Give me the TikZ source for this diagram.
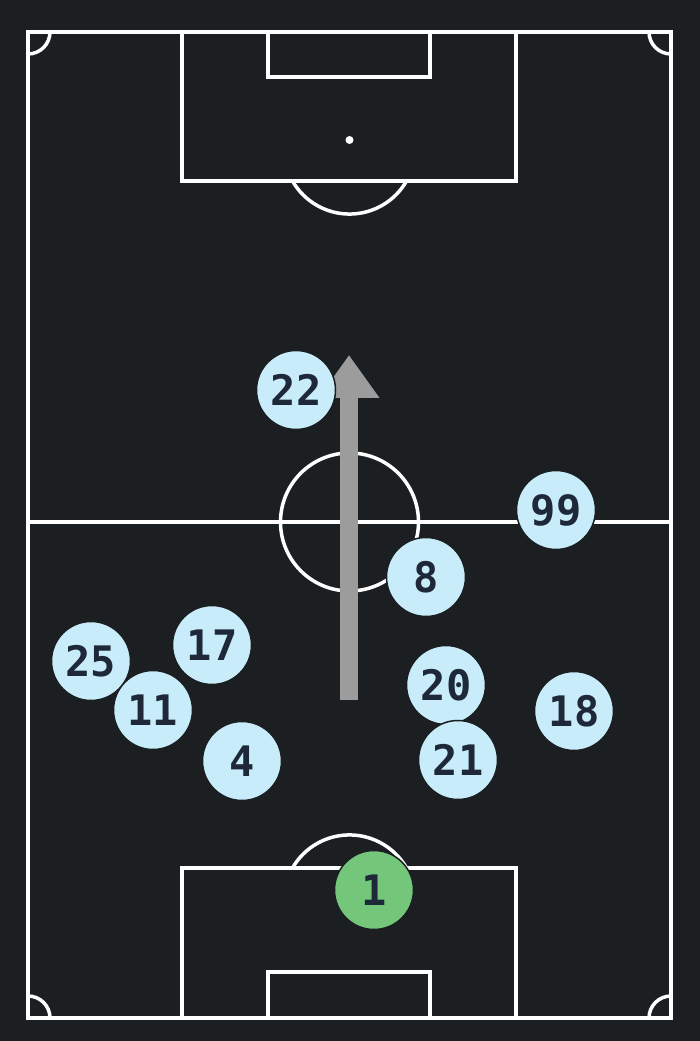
\documentclass[tikz,border=0pt]{standalone}
\usepackage{fontspec}
\usetikzlibrary{arrows.meta}
\newfontfamily\numfont{DejaVu Sans Mono}
\definecolor{pitchbg}{HTML}{1B1F21}
\definecolor{pblue}{HTML}{C8ECFA}
\definecolor{pgreen}{HTML}{74C77A}
\definecolor{pnavy}{HTML}{1E2838}
\definecolor{pgray}{HTML}{9C9C9C}
\begin{document}
\begin{tikzpicture}[x=1pt, y=1pt,
	line/.style={draw=white, line width=3.5pt},
	player/.style={circle, fill=pblue, draw=pitchbg, line width=1.5pt, minimum size=79pt, inner sep=0pt, text=pnavy, font=\numfont\bfseries\fontsize{42}{42}\selectfont},
	keeper/.style={player, fill=pgreen}]
	\fill[pitchbg] (0,0) rectangle (700,1041);
	\useasboundingbox (0,0) rectangle (700,1041);

	\draw[line] (28,23) rectangle (671,1009);
	\draw[line] (28,519) -- (671,519);
	\draw[line] (349.5,519) circle[radius=69];

	\draw[line] (182,1009) rectangle (516,860);
	\draw[line] (268,1009) rectangle (430,964);
	\fill[white] (349.5,901) circle[radius=4];
	\draw[line] (406.5,860) arc[start angle=-29.8, end angle=-150.2, radius=65.7];

	\draw[line] (182,23) rectangle (516,173);
	\draw[line] (268,23) rectangle (430,69);
	\fill[white] (349.5,131) circle[radius=4];
	\draw[line] (406.5,173) arc[start angle=29.8, end angle=150.2, radius=65.7];

	\draw[line] (28,987) arc[start angle=-90, end angle=0, radius=22];
	\draw[line] (649,1009) arc[start angle=180, end angle=270, radius=22];
	\draw[line] (50,23) arc[start angle=0, end angle=90, radius=22];
	\draw[line] (671,45) arc[start angle=90, end angle=180, radius=22];

	\coordinate (runfrom) at (349,341);
	\coordinate (runto) at (349,686);
	\draw[pgray, line width=18pt, -{Triangle[width=58pt, length=43pt]}] (runfrom) -- (runto);

	\node[player] (p22) at (296,651) {22};
	\node[player] (p99) at (556,531) {99};
	\node[player] (p8) at (426,464) {8};
	\node[player] (p25) at (91,380) {25};
	\node[player] (p17) at (212,396) {17};
	\node[player] (p11) at (153,331) {11};
	\node[player] (p4) at (242,280) {4};
	\node[player] (p20) at (446,356) {20};
	\node[player] (p21) at (458,281) {21};
	\node[player] (p18) at (574,330) {18};
	\node[keeper] (p1) at (374,151) {1};
\end{tikzpicture}
\end{document}
